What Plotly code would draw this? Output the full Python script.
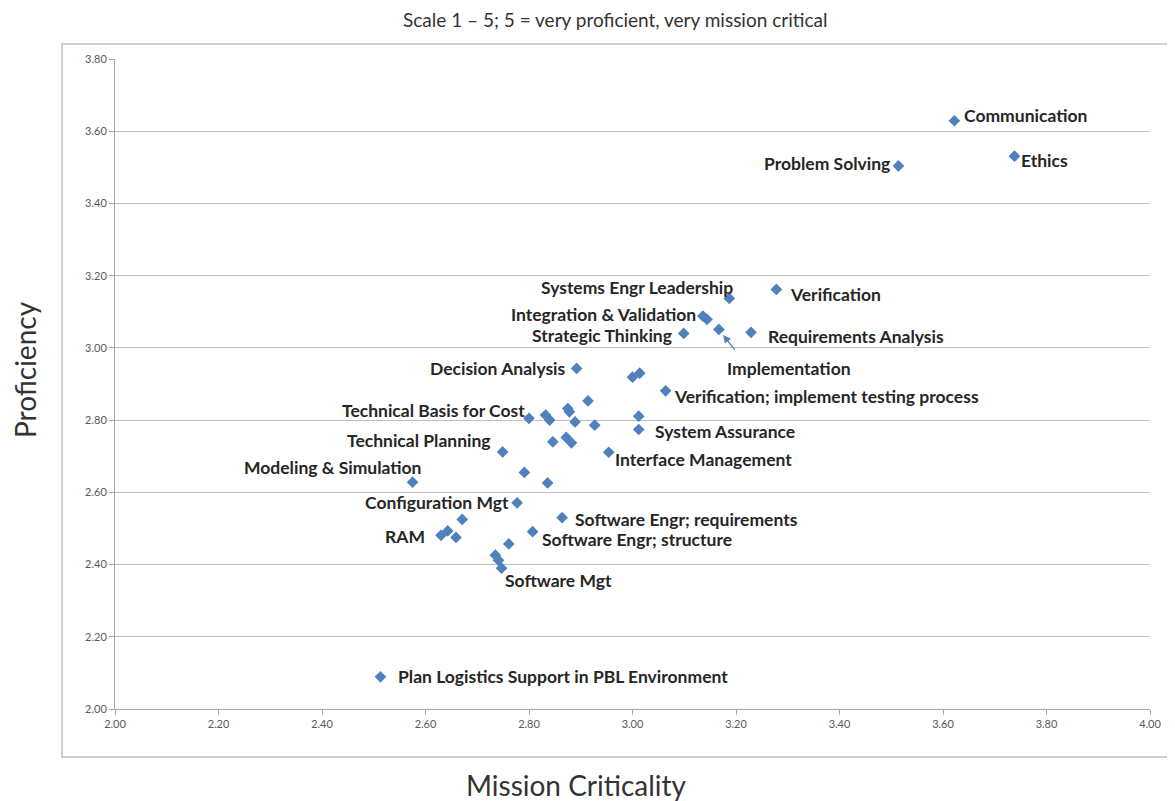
import plotly.graph_objects as go

# ---- data ----
mission_criticality = [
    3.622, 3.738, 3.514, 3.278, 3.187, 3.136, 3.144, 3.167, 3.099, 3.229,
    2.892, 3.000, 3.014, 3.064, 2.914, 2.800, 2.832, 2.840, 2.875, 2.878,
    2.889, 2.927, 3.012, 3.012, 2.846, 2.872, 2.882, 2.954, 2.749, 2.575,
    2.791, 2.836, 2.777, 2.671, 2.864, 2.630, 2.643, 2.659, 2.807, 2.761,
    2.735, 2.741, 2.747, 2.513,
]
proficiency = [
    3.629, 3.531, 3.504, 3.162, 3.137, 3.088, 3.079, 3.051, 3.040, 3.043,
    2.943, 2.919, 2.930, 2.881, 2.853, 2.805, 2.814, 2.800, 2.832, 2.823,
    2.795, 2.786, 2.811, 2.774, 2.740, 2.752, 2.737, 2.711, 2.712, 2.628,
    2.655, 2.626, 2.571, 2.525, 2.530, 2.481, 2.493, 2.475, 2.491, 2.457,
    2.426, 2.412, 2.390, 2.089,
]
labels = [
    "Communication", "Ethics", "Problem Solving", "Verification",
    "Systems Engr Leadership", "Integration & Validation", "", "Implementation",
    "Strategic Thinking", "Requirements Analysis",
    "Decision Analysis", "", "", "Verification; implement testing process", "",
    "Technical Basis for Cost", "", "", "", "",
    "", "", "", "System Assurance", "", "", "", "Interface Management",
    "Technical Planning", "Modeling & Simulation",
    "", "", "Configuration Mgt", "", "Software Engr; requirements", "RAM", "", "",
    "Software Engr; structure", "",
    "", "", "Software Mgt", "Plan Logistics Support in PBL Environment",
]
x_ticks = [2.0, 2.2, 2.4, 2.6, 2.8, 3.0, 3.2, 3.4, 3.6, 3.8, 4.0]
y_ticks = [2.0, 2.2, 2.4, 2.6, 2.8, 3.0, 3.2, 3.4, 3.6, 3.8]
title_text = "Scale 1 \u2013 5; 5 = very proficient, very mission critical"
x_title = "Mission Criticality"
y_title = "Proficiency"

# ---- label placement (style only) ----
# label: (xanchor, xshift, yshift)
label_pos = {
    "Communication": ("left", 8, 5),
    "Ethics": ("left", 5, -4),
    "Problem Solving": ("right", -6, 2),
    "Verification": ("left", 12, -5),
    "Systems Engr Leadership": ("right", 6, 11),
    "Integration & Validation": ("right", -5, 2),
    "Implementation": ("left", 6, -39),
    "Strategic Thinking": ("right", -10, -2),
    "Requirements Analysis": ("left", 15, -4),
    "Decision Analysis": ("right", -9, 0),
    "Verification; implement testing process": ("left", 6, -6),
    "Technical Basis for Cost": ("right", -2, 8),
    "System Assurance": ("left", 14, -2),
    "Technical Planning": ("right", -10, 11),
    "Interface Management": ("left", 4, -7),
    "Modeling & Simulation": ("right", 11, 15),
    "Configuration Mgt": ("right", -6, 0),
    "Software Engr; requirements": ("left", 11, -2),
    "RAM": ("right", -14, -1),
    "Software Engr; structure": ("left", 7, -8),
    "Software Mgt": ("left", 1, -12),
    "Plan Logistics Support in PBL Environment": ("left", 16, 0),
}
arrow_labels = {"Implementation": (17, 22)}  # tail offset in px (ax, ay)

MARKER = "#4F81BD"
TEXT = "#262626"
FONT = "Lato"
LABEL_SIZE = 17.5

# page has an 8px body margin; plot area on screen: x 115..1150, y 59..709
PL, PR, PT, PB = 115, 1150, 59, 709
OFF = 8
W, H = 1175 - OFF, 801 - OFF


def px(sx):
    return (sx - PL) / (PR - PL)


def py(sy):
    return (PB - sy) / (PB - PT)


fig = go.Figure()
fig.add_trace(go.Scatter(
    x=mission_criticality, y=proficiency, mode="markers",
    marker=dict(symbol="diamond", size=9, color=MARKER),
    hoverinfo="x+y", showlegend=False,
))

annotations = []
for xv, yv, lab in zip(mission_criticality, proficiency, labels):
    if not lab:
        continue
    if lab in arrow_labels:
        axo, ayo = arrow_labels[lab]
        annotations.append(dict(
            x=xv, y=yv, xref="x", yref="y", text="",
            showarrow=True, ax=axo, ay=ayo, arrowhead=2, arrowsize=1.2,
            arrowwidth=1.3, arrowcolor=MARKER, standoff=7,
        ))
    xa, xs, ys = label_pos[lab]
    annotations.append(dict(
        x=xv, y=yv, xref="x", yref="y", text="<b>%s</b>" % lab,
        showarrow=False, xanchor=xa, yanchor="middle", xshift=xs, yshift=ys,
        font=dict(family=FONT, size=LABEL_SIZE, color=TEXT),
    ))

# titles
annotations.append(dict(
    x=px(615), y=py(19), xref="paper", yref="paper",
    text=title_text, showarrow=False, xanchor="center", yanchor="middle",
    font=dict(family=FONT, size=19, color="#333333"),
))
annotations.append(dict(
    x=px(576), y=py(785), xref="paper", yref="paper",
    text=x_title, showarrow=False, xanchor="center", yanchor="middle",
    font=dict(family=FONT, size=28, color="#333333"),
))
annotations.append(dict(
    x=px(25), y=py(370), xref="paper", yref="paper",
    text=y_title, showarrow=False, xanchor="center", yanchor="middle",
    textangle=-90, font=dict(family=FONT, size=28, color="#333333"),
))

fig.update_layout(
    width=W, height=H,
    margin=dict(l=PL - OFF, r=W - (PR - OFF), t=PT - OFF, b=H - (PB - OFF)),
    paper_bgcolor="white", plot_bgcolor="white",
    annotations=annotations,
    shapes=[dict(
        type="rect", xref="paper", yref="paper",
        x0=px(62), x1=px(1174), y0=py(757), y1=py(44),
        line=dict(color="#d0d0d0", width=2), layer="below",
    )],
    font=dict(family=FONT),
)
fig.update_xaxes(
    range=[2.0, 4.0], tickvals=x_ticks, ticktext=["%.2f" % v for v in x_ticks],
    showgrid=False, zeroline=False, showline=True, linecolor="#a6a6a6",
    linewidth=1, ticks="outside", ticklen=5, tickcolor="#a6a6a6",
    tickfont=dict(family=FONT, size=11, color="#595959"),
)
fig.update_yaxes(
    range=[2.0, 3.8], tickvals=y_ticks, ticktext=["%.2f" % v for v in y_ticks],
    showgrid=True, gridcolor="#bfbfbf", gridwidth=1, zeroline=False,
    showline=True, linecolor="#a6a6a6", linewidth=1, ticks="outside",
    ticklen=5, tickcolor="#a6a6a6",
    tickfont=dict(family=FONT, size=11, color="#595959"),
)

fig.write_html("out.html")
